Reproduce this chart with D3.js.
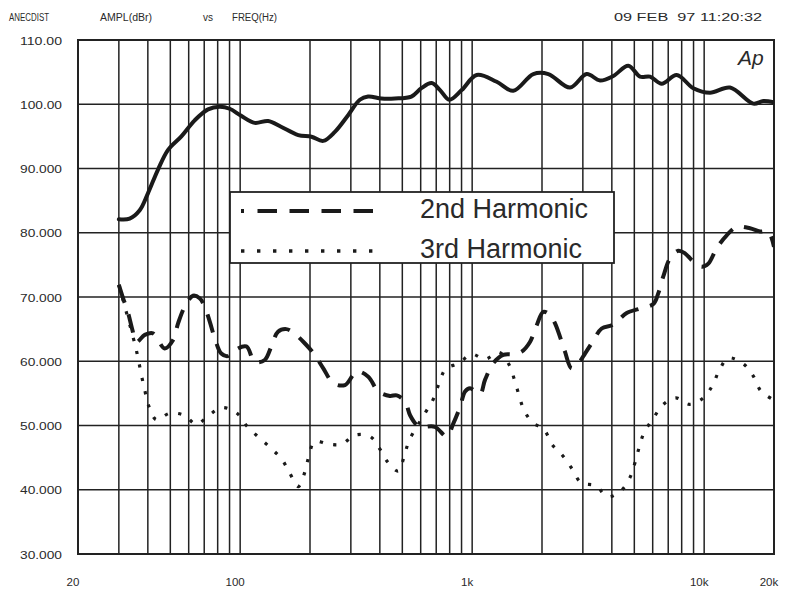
<!DOCTYPE html>
<html><head><meta charset="utf-8">
<script src="https://cdn.jsdelivr.net/npm/d3@7"></script>
<style>
html,body{margin:0;padding:0;background:#fff;}
svg{display:block;}
text{fill:#2a2a2a;font-family:"Liberation Sans",Arial,sans-serif;}
</style></head>
<body><svg id="c" width="786" height="590"></svg>
<script>
// ---- data ----
const yTicks = [110, 100, 90, 80, 70, 60, 50, 40, 30];
const yTickLabels = ["110.00", "100.00", "90.000", "80.000", "70.000", "60.000", "50.000", "40.000", "30.000"];
const xTickValues = [20, 100, 1000, 10000, 20000];
const xTickLabels = ["20", "100", "1k", "10k", "20k"];
const seriesNames = ["2nd Harmonic", "3rd Harmonic"];

const fundFreq = [30, 33.4, 36.9, 40, 44.2, 48.9, 55.8, 63.7, 72.7, 81.6, 90.1, 101, 115.5, 132, 150, 178, 203, 228, 256, 292, 328, 356, 406, 464, 547, 604, 669, 727, 797, 901, 1046, 1276, 1504, 1835, 2130, 2640, 3116, 3557, 4058, 4710, 5290, 5842, 6562, 7614, 8980, 10596, 12922, 16290, 17984, 20000];
const fundDb = [82.1, 82.2, 83.5, 86.1, 89.8, 92.9, 95, 97.5, 99.2, 99.6, 99.3, 98.2, 97.1, 97.4, 96.5, 95.2, 94.95, 94.3, 95.7, 98.3, 100.7, 101.2, 100.9, 100.9, 101.2, 102.5, 103.3, 102.2, 100.7, 102.2, 104.55, 103.5, 102.1, 104.7, 104.7, 102.6, 104.7, 103.7, 104.4, 106, 104.3, 104.3, 103.2, 104.55, 102.5, 101.8, 102.6, 100.1, 100.5, 100.3];

const h2Freq = [30, 31.3, 32.9, 34.3, 35.7, 38.8, 42.1, 47.3, 51.4, 54, 57.7, 62.6, 66.9, 70.3, 73.9, 77.7, 82.9, 88.6, 94.7, 106.3, 115.5, 127.6, 136.2, 145.6, 158.1, 169, 189.8, 209.6, 228.2, 252, 283, 318, 356.6, 394, 442, 473, 514, 540, 577, 606, 691, 777, 829, 887, 932, 979, 1081, 1136, 1233, 1362, 1504, 1635, 1775, 1898, 2026, 2166, 2276, 2392, 2512, 2685, 2916, 3064, 3275, 3617, 3994, 4265, 4636, 5290, 6036, 6344, 6666, 7122, 7737, 8268, 8980, 9760, 10424, 11324, 12510, 13813, 15760, 17406, 18898, 20000];
const h2Db = [71.9, 69.8, 67.5, 64.9, 63.0, 64.1, 64.35, 62.0, 63.3, 65.9, 68.5, 70.2, 69.8, 68.5, 66.2, 63.6, 61.2, 60.8, 61.7, 62.3, 59.9, 60.2, 62.3, 64.6, 65.0, 64.5, 62.8, 61.0, 58.9, 56.6, 56.3, 58.4, 57.6, 55.3, 54.6, 54.7, 53.7, 51.6, 50.1, 49.8, 49.8, 48.3, 50.3, 52.9, 55.3, 55.8, 54.9, 57.1, 59.7, 61.0, 61.1, 61.5, 63.0, 65.6, 67.7, 67.2, 65.9, 63.8, 61.5, 58.9, 60.0, 61.2, 62.8, 65.1, 65.6, 66.4, 67.5, 68.2, 68.9, 70.6, 73.2, 76.0, 77.2, 76.8, 75.5, 74.7, 75.2, 77.6, 79.6, 80.9, 80.7, 80.2, 80.2, 77.8];

const h3Freq = [30, 35.1, 36.3, 37.5, 38.8, 40.3, 43.5, 49.7, 57.3, 64.7, 73.4, 83.5, 96.9, 107, 119.8, 135.4, 151.5, 163.5, 178, 189.8, 197.4, 209.6, 239.8, 274, 312.6, 362.8, 400.6, 435, 480.4, 510, 535.8, 626, 680, 719, 769, 877, 995, 1136, 1305, 1441, 1519, 1592, 1673, 1817, 2046, 2216, 2457, 2702, 2946, 3418, 3838, 4368, 4788, 5032, 5256, 5521, 6036, 6628, 7541, 8628, 9916, 10883, 11622, 12706, 14750, 16290, 17528, 19862];
const h3Db = [71.9, 62.8, 60.5, 57.9, 55.5, 53.1, 50.9, 51.9, 51.6, 50.2, 51.6, 52.8, 51.9, 49.9, 48.2, 46.5, 44.7, 42.6, 40.5, 42.7, 45.1, 47.5, 47.1, 47.1, 48.5, 48.3, 46.3, 44.2, 42.9, 45.3, 47.7, 51.9, 54.1, 56.5, 58.8, 59.7, 61.1, 60.3, 61.4, 59.5, 57.2, 54.7, 52.4, 50.5, 49.3, 47.0, 45.3, 43.2, 41.1, 40.6, 38.9, 39.8, 41.9, 44.2, 46.7, 49.0, 51.1, 53.2, 54.3, 53.3, 54.3, 56.3, 58.6, 60.5, 59.6, 57.7, 55.4, 54.0];

// ---- layout ----
const L = 78, R = 774, T = 40, B = 554;
const svg = d3.select("#c");
const x = d3.scaleLog().domain([20, 20000]).range([L, R]);
const y = d3.scaleLinear().domain([30, 110]).range([B, T]);
const ink = "#222";

// header
const hdr = svg.append("g").style("font-size", "10px");
hdr.append("text").attr("x", 9).attr("y", 21).attr("textLength", 40).attr("lengthAdjust", "spacingAndGlyphs").text("ANECDIST");
hdr.append("text").attr("x", 100).attr("y", 21).attr("textLength", 52).attr("lengthAdjust", "spacingAndGlyphs").text("AMPL(dBr)");
hdr.append("text").attr("x", 203).attr("y", 21).attr("textLength", 10).attr("lengthAdjust", "spacingAndGlyphs").text("vs");
hdr.append("text").attr("x", 232).attr("y", 21).attr("textLength", 45).attr("lengthAdjust", "spacingAndGlyphs").text("FREQ(Hz)");
hdr.append("text").attr("x", 614).attr("y", 21).attr("textLength", 148).attr("lengthAdjust", "spacingAndGlyphs").text("09 FEB  97 11:20:32").style("white-space", "pre");

// grid
const vGrid = [];
[10, 100, 1000].forEach(d => { for (let k = 1; k <= 9; k++) { const f = d * k; if (f > 20 && f < 20000) vGrid.push(f); } });
vGrid.push(10000);
const grid = svg.append("g").attr("stroke", ink).attr("stroke-width", 1.5);
grid.selectAll("line.v").data(vGrid).join("line").attr("class", "v")
  .attr("x1", d => x(d)).attr("x2", d => x(d)).attr("y1", T).attr("y2", B);
grid.selectAll("line.h").data(yTicks.filter(v => v > 30 && v < 110)).join("line").attr("class", "h")
  .attr("x1", L).attr("x2", R).attr("y1", d => y(d)).attr("y2", d => y(d));
svg.append("rect").attr("x", L).attr("y", T).attr("width", R - L).attr("height", B - T)
  .attr("fill", "none").attr("stroke", ink).attr("stroke-width", 2);

// axes labels
const yAxis = svg.append("g").style("font-size", "11px");
yAxis.selectAll("text").data(yTicks).join("text")
  .attr("x", 20).attr("y", d => y(d) + 4.5)
  .attr("textLength", 42)
  .attr("lengthAdjust", "spacingAndGlyphs")
  .text((d, i) => yTickLabels[i]);
const xAxis = svg.append("g").style("font-size", "11.5px").attr("text-anchor", "middle");
xAxis.selectAll("text").data(xTickValues).join("text")
  .attr("x", d => x(d) - 5).attr("y", 586)
  .text((d, i) => xTickLabels[i]);

// clip
svg.append("clipPath").attr("id", "clip").append("rect").attr("x", L).attr("y", T).attr("width", R - L).attr("height", B - T);

const line = d3.line().x(d => x(d[0])).y(d => y(d[1])).curve(d3.curveCatmullRom.alpha(0.5));
const plot = svg.append("g").attr("clip-path", "url(#clip)").attr("fill", "none").attr("stroke", "#1a1a1a");

plot.append("path").datum(d3.zip(fundFreq, fundDb)).attr("d", line)
  .attr("stroke-width", 4).attr("stroke-linejoin", "round").attr("stroke-linecap", "round");
plot.append("path").datum(d3.zip(h2Freq, h2Db)).attr("d", line)
  .attr("stroke-width", 4).attr("stroke-dasharray", "19,12");
plot.append("path").datum(d3.zip(h3Freq, h3Db)).attr("d", line)
  .attr("stroke-width", 3.2).attr("stroke-dasharray", "3.2,10.5");

// legend
const lg = svg.append("g");
lg.append("rect").attr("x", 230).attr("y", 192).attr("width", 384).attr("height", 71)
  .attr("fill", "#fff").attr("stroke", ink).attr("stroke-width", 1.8);
lg.append("line").attr("x1", 241).attr("x2", 373).attr("y1", 211).attr("y2", 211)
  .attr("stroke", "#1a1a1a").attr("stroke-width", 4).attr("stroke-dasharray", "3,13.5,19.5,12.5,19.5,12.5,19.5,12.5,19.5,12.5");
lg.append("line").attr("x1", 241).attr("x2", 375).attr("y1", 251).attr("y2", 251)
  .attr("stroke", "#1a1a1a").attr("stroke-width", 3.4).attr("stroke-dasharray", "3.4,12.6");
lg.selectAll("text").data(seriesNames).join("text")
  .attr("x", 420).attr("y", (d, i) => 218 + i * 40)
  .style("font-size", "27px").text(d => d);

// Ap logo
svg.append("text").attr("x", 738).attr("y", 65).style("font-size", "21px").style("font-style", "italic").text("Ap");
</script></body></html>
